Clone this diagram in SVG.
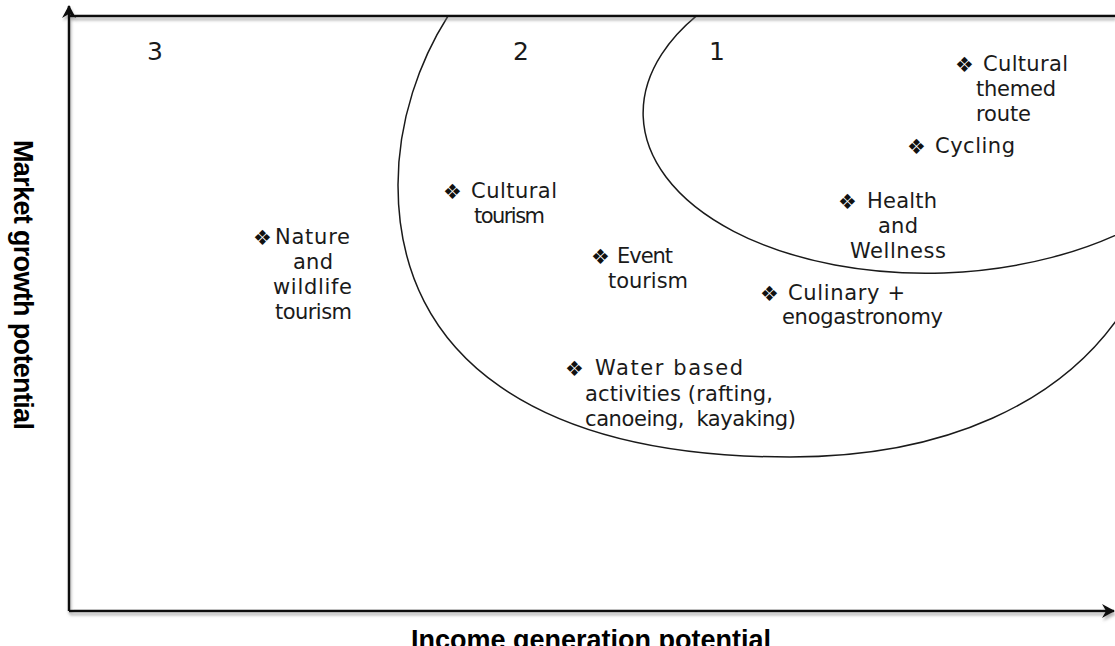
<svg xmlns="http://www.w3.org/2000/svg" width="1115" height="646" viewBox="0 0 1115 646">
<style>
.t{font-family:"DejaVu Sans","Liberation Sans",sans-serif;font-size:21px;fill:#1a1a1a}
.b{font-family:"DejaVu Sans",sans-serif;font-size:21px;fill:#111}
.z{font-family:"DejaVu Sans","Liberation Sans",sans-serif;font-size:25px;fill:#1a1a1a}
.ax{font-family:"Liberation Sans",Arial,sans-serif;font-size:27px;font-weight:bold;fill:#000}
.axis{stroke:#111;stroke-width:2.5;fill:none}
.zone{stroke:#1a1a1a;stroke-width:1.5;fill:none}
</style>
<defs>
<marker id="arr" markerUnits="userSpaceOnUse" markerWidth="16" markerHeight="16" refX="12" refY="7" orient="auto">
<path d="M0,0 L13,7 L0,14 L4,7 z" fill="#111"/>
</marker>
<filter id="sh" x="-5%" y="-5%" width="110%" height="120%">
<feDropShadow dx="1" dy="3" stdDeviation="1.5" flood-color="#777" flood-opacity="0.6"/>
</filter>
<clipPath id="frame"><rect x="69" y="16" width="1046" height="595"/></clipPath>
</defs>
<rect width="1115" height="646" fill="#fff"/>
<g id="zones" clip-path="url(#frame)">
<path class="zone" d="M448,16 C420,60 398,120 398,185 C398,360 540,457 790,457 C950,457 1060,400 1118,318"/>
<ellipse class="zone" cx="938" cy="106" rx="295" ry="167" transform="rotate(-2 938 106)"/>
</g>
<g id="connectors" filter="url(#sh)">
<line class="axis" x1="69" y1="16" x2="1115" y2="16"/>
<line class="axis" x1="69" y1="611" x2="69" y2="6" marker-end="url(#arr)"/>
<line class="axis" x1="69" y1="611" x2="1114" y2="611" marker-end="url(#arr)"/>
</g>
<g id="zone-labels">
<text class="z" x="147" y="60">3</text>
<text class="z" x="513" y="60">2</text>
<text class="z" x="709" y="60">1</text>
</g>
<g id="node-nature">
<text class="b" x="253" y="245">❖</text>
<text class="t" x="275" y="244" textLength="75">Nature</text>
<text class="t" x="293" y="269" textLength="40">and</text>
<text class="t" x="273" y="294" textLength="79">wildlife</text>
<text class="t" x="275" y="319" textLength="77">tourism</text>
</g>
<g id="node-cultural-tourism">
<text class="b" x="443" y="199">❖</text>
<text class="t" x="471" y="198" textLength="86">Cultural</text>
<text class="t" x="474" y="223" textLength="71">tourism</text>
</g>
<g id="node-event">
<text class="b" x="591" y="264">❖</text>
<text class="t" x="617" y="263" textLength="56">Event</text>
<text class="t" x="608" y="288" textLength="80">tourism</text>
</g>
<g id="node-water">
<text class="b" x="565" y="376">❖</text>
<text class="t" x="595" y="375" textLength="148">Water based</text>
<text class="t" x="585" y="401" textLength="188">activities (rafting,</text>
<text class="t" x="585" y="426" textLength="211" style="white-space:pre">canoeing,  kayaking)</text>
</g>
<g id="node-culinary">
<text class="b" x="760" y="301">❖</text>
<text class="t" x="788" y="300" textLength="117">Culinary +</text>
<text class="t" x="782" y="324" textLength="161">enogastronomy</text>
</g>
<g id="node-health">
<text class="b" x="838" y="209">❖</text>
<text class="t" x="867" y="208" textLength="70">Health</text>
<text class="t" x="878" y="233" textLength="40">and</text>
<text class="t" x="850" y="258" textLength="96">Wellness</text>
</g>
<g id="node-cycling">
<text class="b" x="907" y="154">❖</text>
<text class="t" x="935" y="153" textLength="80">Cycling</text>
</g>
<g id="node-cultural-route">
<text class="b" x="955" y="72">❖</text>
<text class="t" x="983" y="71" textLength="85">Cultural</text>
<text class="t" x="976" y="96" textLength="80">themed</text>
<text class="t" x="976" y="121" textLength="55">route</text>
</g>
<g id="axis-titles">
<text class="ax" transform="translate(14,140) rotate(90)" textLength="290">Market growth potential</text>
<text class="ax" x="591" y="649" text-anchor="middle" font-size="29">Income generation potential</text>
</g>
</svg>
